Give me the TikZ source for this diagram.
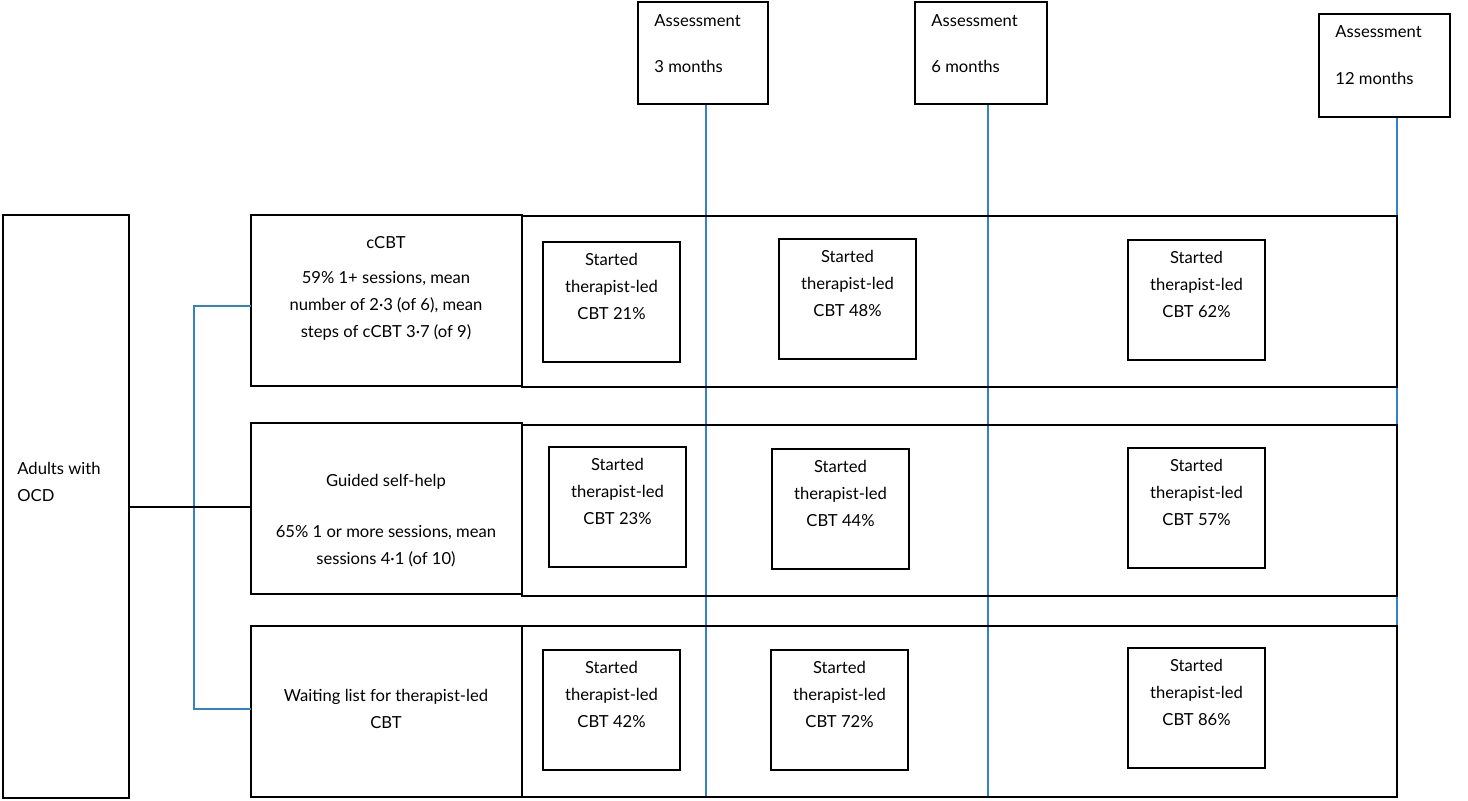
\documentclass[tikz,border=0pt]{standalone}
\usepackage{fontspec}
\setmainfont{Lato}
\begin{document}
\begin{tikzpicture}[x=0.5pt,y=-0.5pt,
  box/.style={draw=black,line width=0.6pt},
  bl/.style={draw=blue!45!cyan!70!black!80,line width=0.6pt},
  t/.style={font=\fontsize{8.3}{13.5}\selectfont,align=center,inner sep=0pt},
  tl/.style={font=\fontsize{8.3}{13.5}\selectfont,align=left,inner sep=0pt,anchor=west}]
\useasboundingbox (0,0) rectangle (1468,800);
% blue verticals
\coordinate (v1t) at (706,104); \coordinate (v1b) at (706,797);
\coordinate (v2t) at (988,104); \coordinate (v2b) at (988,797);
\coordinate (v3t) at (1397,117); \coordinate (v3b) at (1397,797);
\draw[bl] (v1t)--(v1b); \draw[bl] (v2t)--(v2b); \draw[bl] (v3t)--(v3b);
% assessment boxes
\draw[box,fill=white] (638,2) rectangle (768,104);
\draw[box,fill=white] (915,2) rectangle (1047,104);
\draw[box,fill=white] (1319,14) rectangle (1450,117);
\node[tl] (a1) at (654,21) {Assessment}; \node[tl] (a1b) at (654,66) {3 months};
\node[tl] (a2) at (931,21) {Assessment}; \node[tl] (a2b) at (931,66) {6 months};
\node[tl] (a3) at (1335,32) {Assessment}; \node[tl] (a3b) at (1335,78) {12 months};
% left
\draw[box] (3,215) rectangle (129,798);
\node[tl] (ad) at (17,482) {Adults with\\OCD};
% row boxes
\draw[box] (522,216) rectangle (1397,387);
\draw[box] (522,425) rectangle (1397,596);
\draw[box] (522,626) rectangle (1397,797);
\draw[box] (251,215) rectangle (522,386);
\draw[box] (251,423) rectangle (522,594);
\draw[box] (251,626) rectangle (522,797);
\node[t] (c1) at (386,243) {cCBT};
\node[t] (c2) at (386,306) {59\% 1+ sessions, mean\\number of 2·3 (of 6), mean\\steps of cCBT 3·7 (of 9)};
\node[t] (g1) at (386,482) {Guided self-help};
\node[t] (g2) at (386,546) {65\% 1 or more sessions, mean\\sessions 4·1 (of 10)};
\node[t] (w1) at (386,709) {Waiting list for therapist-led\\CBT};
% connectors
\coordinate (b1) at (251,306); \coordinate (b2) at (194,306);
\coordinate (b3) at (194,709); \coordinate (b4) at (251,709);
\draw[bl] (b1)--(b2)--(b3)--(b4);
\coordinate (m1) at (129,507); \coordinate (m2) at (251,507);
\draw[box] (m1)--(m2);
% inner boxes
\foreach \x/\y/\p in {543/242/21,779/239/48,1128/240/62,549/447/23,772/449/44,1128/448/57,543/650/42,771/650/72,1128/648/86}{
  \draw[box,fill=white] (\x,\y) rectangle ++(137,120);
  \node[t] at (\x+68.5,\y+44) {Started\\therapist-led\\CBT \p\%};
}
\end{tikzpicture}
\end{document}
